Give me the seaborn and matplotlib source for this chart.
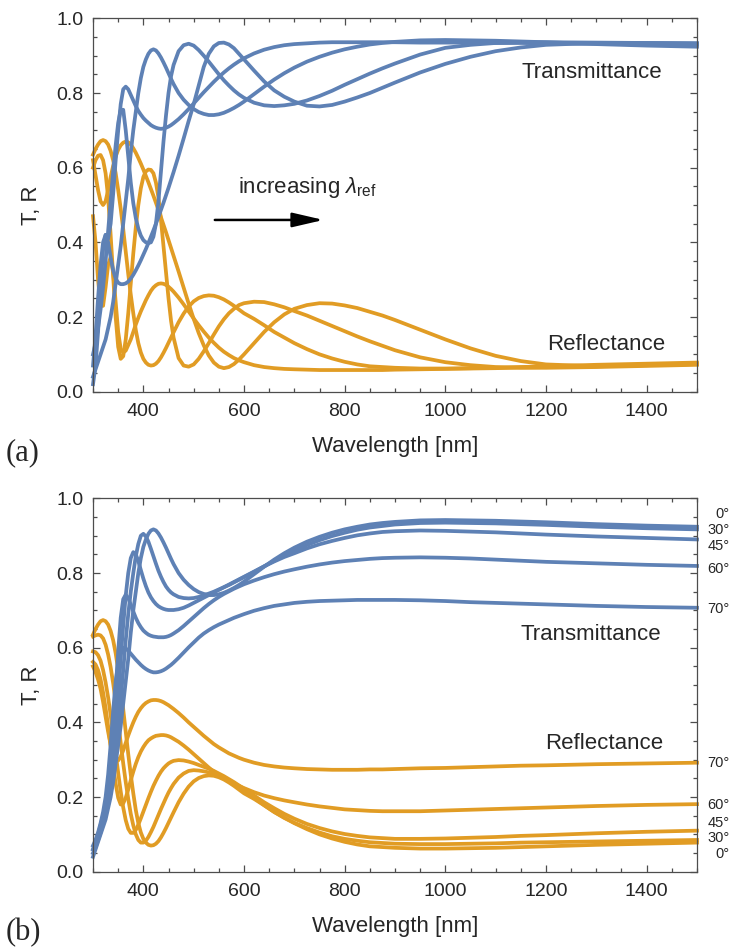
import matplotlib
matplotlib.use("Agg")
import matplotlib.pyplot as plt
import pandas as pd
import seaborn as sns
from matplotlib.ticker import MultipleLocator, FormatStrFormatter

# ---------------------------------------------------------------------------
# Wavelength grid [nm] shared by every spectrum
# ---------------------------------------------------------------------------
WL = [300, 305, 310, 315, 320, 325, 330, 335, 340, 345, 350, 355, 360, 365, 370, 375, 380,
      385, 390, 395, 400, 405, 410, 415, 420, 425, 430, 435, 440, 445, 450, 455, 460,
      470, 480, 490, 500, 510, 520, 530, 540, 550, 560, 570, 580, 590, 600,
      620, 640, 660, 680, 700,
      725, 750, 775, 800, 825, 850, 875, 900, 950, 1000,
      1050, 1100, 1150, 1200, 1300, 1400, 1500]

# (a) four reference wavelengths, lambda_ref increasing from design 1 to design 4
T1 = [.02, .07, .16, .28, .38, .42, .41, .45, .53, .62, .70, .77, .81, .817, .81, .795, .78,
      .765, .752, .742, .733, .726, .72, .714, .71, .707, .705, .704, .705, .707, .71, .714, .719,
      .73, .743, .757, .772, .787, .802, .816, .83, .843, .855, .866, .876, .885, .893,
      .906, .916, .923, .928, .931,
      .933, .935, .936, .936, .936, .936, .936, .936, .935, .935,
      .935, .934, .934, .933, .932, .931, .93]
R1 = [.47, .40, .30, .23, .23, .28, .34, .36, .32, .24, .16, .115, .105, .11, .125, .14, .16,
      .18, .198, .215, .23, .245, .258, .27, .279, .285, .289, .29, .289, .286, .281, .275, .268,
      .252, .234, .215, .196, .178, .161, .145, .131, .118, .107, .098, .09, .084, .079,
      .071, .066, .063, .061, .06,
      .059, .058, .058, .058, .058, .058, .058, .059, .06, .061,
      .062, .063, .065, .066, .069, .072, .075]

T2 = [.04, .06, .08, .10, .12, .14, .17, .20, .24, .29, .34, .39, .45, .51, .57, .64, .70,
      .75, .80, .84, .87, .89, .905, .914, .917, .914, .906, .895, .882, .868, .853, .838, .824,
      .80, .782, .768, .757, .749, .744, .741, .741, .743, .747, .753, .76, .768, .777,
      .797, .817, .836, .853, .868,
      .884, .897, .908, .917, .924, .93, .934, .937, .941, .942,
      .941, .94, .938, .936, .931, .927, .924]
R2 = [.635, .65, .662, .671, .674, .671, .662, .645, .62, .585, .54, .49, .435, .375, .315, .26, .21,
      .165, .13, .105, .088, .078, .072, .07, .071, .075, .082, .092, .104, .117, .131, .145, .159,
      .186, .209, .228, .242, .251, .256, .258, .257, .253, .247, .239, .23, .22, .21,
      .195, .178, .16, .145, .13,
      .114, .10, .089, .08, .073, .068, .066, .064, .062, .062,
      .063, .064, .066, .068, .072, .075, .078]

T3 = [.10, .13, .17, .22, .28, .35, .43, .51, .59, .66, .72, .755, .755, .70, .63, .56, .505,
      .465, .437, .418, .406, .40, .398, .40, .415, .45, .51, .59, .67, .74, .80, .845, .875,
      .912, .928, .932, .927, .915, .90, .884, .867, .85, .834, .82, .807, .796, .787,
      .774, .767, .765, .767, .771,
      .78, .792, .806, .822, .837, .852, .866, .879, .903, .921,
      .929, .934, .936, .936, .935, .934, .933]
R3 = [.60, .62, .632, .634, .62, .585, .52, .42, .31, .20, .12, .088, .095, .14, .21, .29, .37,
      .44, .50, .545, .575, .59, .595, .594, .585, .56, .52, .46, .39, .32, .25, .19, .145,
      .09, .07, .067, .073, .088, .108, .13, .153, .175, .194, .21, .222, .232, .237,
      .241, .24, .234, .226, .216,
      .204, .19, .176, .162, .148, .135, .123, .111, .092, .079,
      .071, .066, .064, .064, .066, .069, .072]

T4 = [.07, .15, .25, .34, .40, .42, .40, .36, .325, .303, .292, .288, .288, .29, .295, .303, .313,
      .325, .338, .352, .367, .382, .398, .415, .432, .45, .468, .487, .506, .526, .546, .567, .588,
      .632, .678, .725, .77, .82, .87, .905, .925, .934, .935, .93, .92, .905, .89,
      .86, .831, .807, .79, .777,
      .766, .764, .768, .777, .788, .80, .814, .828, .855, .878,
      .897, .912, .922, .929, .934, .934, .933]
R4 = [.62, .58, .54, .51, .50, .51, .54, .575, .605, .63, .648, .66, .667, .67, .668, .662, .652,
      .64, .626, .611, .595, .578, .561, .543, .525, .506, .487, .467, .447, .427, .406, .385, .364,
      .322, .279, .236, .195, .157, .124, .097, .078, .067, .063, .066, .074, .086, .10,
      .13, .16, .186, .207, .222,
      .232, .237, .236, .231, .224, .214, .204, .192, .166, .14,
      .116, .096, .082, .073, .068, .071, .074]

# (b) angle of incidence for the reference design (0 deg = design 2 of panel a)
T30 = [.05, .065, .085, .105, .13, .155, .185, .215, .25, .31, .38, .46, .54, .62, .69, .75, .80,
       .845, .878, .90, .905, .898, .884, .865, .845, .825, .806, .79, .776, .764, .755, .748, .743,
       .736, .733, .732, .733, .736, .74, .745, .75, .756, .762, .768, .775, .782, .789,
       .803, .818, .833, .847, .86,
       .875, .888, .899, .908, .916, .922, .926, .93, .934, .935,
       .934, .933, .931, .929, .924, .92, .917]
R30 = [.63, .633, .635, .633, .625, .608, .582, .548, .505, .455, .40, .345, .29, .24, .195, .155, .124,
       .10, .085, .078, .078, .083, .093, .106, .12, .136, .152, .168, .183, .198, .212, .224, .235,
       .252, .263, .27, .272, .271, .269, .266, .263, .258, .252, .245, .237, .228, .218,
       .198, .178, .16, .144, .131,
       .117, .105, .095, .088, .083, .079, .077, .075, .074, .074,
       .075, .076, .078, .079, .081, .083, .085]

T45 = [.06, .075, .095, .115, .14, .165, .195, .235, .29, .37, .47, .57, .66, .74, .80, .84, .856,
       .85, .832, .808, .785, .765, .748, .735, .725, .717, .711, .707, .704, .702, .701, .701, .701,
       .703, .707, .713, .72, .727, .734, .741, .748, .755, .762, .769, .776, .783, .79,
       .804, .818, .831, .843, .853,
       .866, .877, .886, .894, .901, .906, .91, .912, .914, .913,
       .911, .909, .906, .903, .898, .894, .89]
R45 = [.59, .588, .58, .565, .54, .507, .467, .42, .37, .318, .265, .215, .172, .138, .115, .104, .104,
       .112, .126, .143, .161, .179, .197, .214, .23, .244, .257, .268, .277, .284, .29, .294, .297,
       .299, .298, .295, .291, .286, .281, .276, .27, .263, .256, .248, .24, .231, .222,
       .204, .186, .17, .155, .142,
       .128, .117, .108, .101, .096, .092, .09, .088, .088, .089,
       .091, .093, .096, .098, .103, .107, .11]

T60 = [.06, .08, .10, .125, .15, .18, .22, .28, .37, .48, .59, .68, .73, .742, .733, .715, .697,
       .68, .666, .655, .646, .64, .635, .632, .63, .629, .628, .628, .628, .629, .631, .634, .638,
       .647, .658, .67, .682, .694, .706, .717, .727, .736, .744, .751, .758, .764, .77,
       .78, .789, .797, .804, .81,
       .817, .823, .828, .832, .835, .838, .84, .841, .842, .841,
       .839, .836, .833, .83, .826, .822, .819]
R60 = [.562, .555, .54, .515, .48, .438, .39, .337, .285, .236, .198, .18, .183, .198, .22, .245, .268,
       .289, .307, .322, .334, .344, .352, .357, .361, .364, .365, .366, .366, .365, .363, .36, .356,
       .348, .338, .327, .315, .303, .291, .279, .268, .26, .252, .244, .237, .23, .224,
       .213, .204, .197, .191, .186,
       .18, .175, .171, .167, .165, .163, .162, .162, .162, .164,
       .166, .168, .17, .172, .176, .179, .181]

T70 = [.07, .085, .105, .13, .16, .20, .26, .34, .43, .51, .56, .59, .60, .598, .592, .584, .576,
       .568, .561, .554, .548, .543, .539, .536, .534, .534, .535, .537, .54, .544, .549, .554, .56,
       .573, .587, .601, .614, .627, .638, .647, .655, .662, .668, .674, .68, .685, .69,
       .699, .706, .712, .716, .72,
       .723, .725, .726, .727, .728, .728, .728, .728, .727, .725,
       .722, .72, .718, .716, .712, .709, .707]
R70 = [.55, .535, .515, .49, .455, .415, .375, .34, .31, .297, .298, .308, .325, .345, .365, .383, .40,
       .415, .428, .438, .446, .452, .456, .459, .46, .46, .459, .457, .454, .45, .446, .441, .436,
       .425, .413, .40, .388, .376, .364, .353, .342, .333, .325, .317, .311, .305, .30,
       .292, .286, .282, .279, .277,
       .275, .274, .273, .273, .273, .274, .274, .275, .277, .278,
       .28, .282, .284, .285, .288, .29, .292]

panel_a = {"T": [T1, T2, T3, T4], "R": [R1, R2, R3, R4]}
panel_b = {"T": [T2, T30, T45, T60, T70], "R": [R2, R30, R45, R60, R70]}

# angle labels on the right edge of panel (b): (text, y position)
t_angle_labels = [("0°", .957), ("30°", .914), ("45°", .873), ("60°", .811), ("70°", .704)]
r_angle_labels = [("70°", .292), ("60°", .179), ("45°", .131), ("30°", .089), ("0°", .047)]

BLUE = "#5E81B5"
ORANGE = "#E19C24"
FRAME = "#4d4d4d"


def long_frame(panel):
    rows = []
    for kind, curves in panel.items():
        for i, vals in enumerate(curves):
            for wl, v in zip(WL, vals):
                rows.append({"wavelength": wl, "value": v, "kind": kind, "curve": f"{kind}{i}"})
    return pd.DataFrame(rows)


sns.set_style("ticks")
plt.rcParams["font.family"] = ["Liberation Sans", "DejaVu Sans"]
plt.rcParams["mathtext.fontset"] = "custom"
plt.rcParams["mathtext.rm"] = "Liberation Sans"
plt.rcParams["mathtext.it"] = "Liberation Sans:italic"

fig = plt.figure(figsize=(7.29, 9.5), dpi=100)
ax_a = fig.add_axes([0.1276, 0.5877, 0.8285, 0.393])
ax_b = fig.add_axes([0.1276, 0.0824, 0.8285, 0.393])

for ax, panel, tag in [(ax_a, panel_a, "(a)"), (ax_b, panel_b, "(b)")]:
    df = long_frame(panel)
    sns.lineplot(data=df, x="wavelength", y="value", hue="kind", units="curve",
                 estimator=None, sort=False, palette={"T": BLUE, "R": ORANGE},
                 hue_order=["R", "T"], linewidth=2.7, legend=False, ax=ax)
    for ln in ax.lines:
        ln.set_solid_capstyle("projecting")
        ln.set_solid_joinstyle("round")
        ln.set_clip_on(False)
    ax.set_xlim(300, 1500)
    ax.set_ylim(0, 1)
    ax.xaxis.set_major_locator(MultipleLocator(200))
    ax.xaxis.set_minor_locator(MultipleLocator(50))
    ax.yaxis.set_major_locator(MultipleLocator(0.2))
    ax.yaxis.set_minor_locator(MultipleLocator(0.05))
    ax.yaxis.set_major_formatter(FormatStrFormatter("%.1f"))
    ax.tick_params(which="both", direction="in", top=True, right=True,
                   color=FRAME, width=0.9, labelsize=14)
    ax.tick_params(which="major", length=5)
    ax.tick_params(which="minor", length=3)
    ax.tick_params(axis="x", pad=8)
    ax.tick_params(axis="y", pad=7)
    for s in ax.spines.values():
        s.set_color(FRAME)
        s.set_linewidth(0.9)
    ax.set_xlabel("Wavelength [nm]", fontsize=16, labelpad=12)
    ax.set_ylabel("T, R", fontsize=16, labelpad=10)
    ax.text(-0.145, -0.163, tag, transform=ax.transAxes, fontsize=22,
            family=["Liberation Serif", "DejaVu Serif"], ha="left", va="center")

# annotations in panel (a)
ax_a.text(1292, 0.839, "Transmittance", fontsize=16, ha="center", va="baseline")
ax_a.text(1319, 0.112, "Reflectance", fontsize=16, ha="center", va="baseline")
ax_a.text(588, 0.532, r"increasing $\lambda_{\rm ref}$", fontsize=16, ha="left", va="baseline")
ax_a.annotate("", xy=(758, 0.46), xytext=(542, 0.46),
              arrowprops=dict(arrowstyle="-|>,head_length=0.95,head_width=0.22",
                              mutation_scale=20, lw=1.8, color="black", shrinkA=0, shrinkB=0))

# annotations in panel (b)
ax_b.text(1289, 0.62, "Transmittance", fontsize=16, ha="center", va="baseline")
ax_b.text(1316, 0.33, "Reflectance", fontsize=16, ha="center", va="baseline")
lab_tr = ax_b.get_yaxis_transform()
for text, y in t_angle_labels + r_angle_labels:
    ax_b.text(1.0546, y, text, transform=lab_tr, fontsize=10.5, ha="right", va="center",
              clip_on=False)

fig.savefig("out.png", dpi=100)
